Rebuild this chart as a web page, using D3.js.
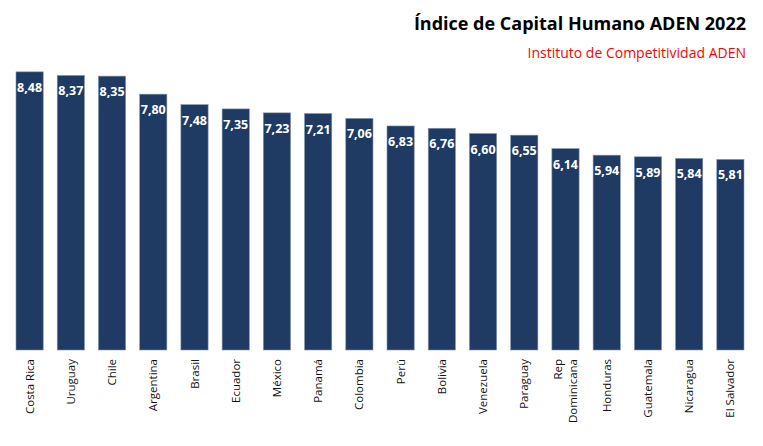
<!DOCTYPE html>
<html><head><meta charset="utf-8">
<script src="https://cdn.jsdelivr.net/npm/d3@7"></script>
<style>body{margin:0;background:#fff}svg{display:block}</style>
</head><body>
<script>
const countries = ["Costa Rica","Uruguay","Chile","Argentina","Brasil","Ecuador","México","Panamá","Colombia","Perú","Bolivia","Venezuela","Paraguay","Rep Dominicana","Honduras","Guatemala","Nicaragua","El Salvador"];
const values = [8.48,8.37,8.35,7.80,7.48,7.35,7.23,7.21,7.06,6.83,6.76,6.60,6.55,6.14,5.94,5.89,5.84,5.81];
const title = "Índice de Capital Humano ADEN 2022";
const subtitle = "Instituto de Competitividad ADEN";

const W = 763, H = 446;
const svg = d3.select("body").append("svg").attr("width", W).attr("height", H);

const x = d3.scaleBand().domain(countries).range([9, 751]).paddingInner(0.34).paddingOuter(0.17);
const y = d3.scaleLinear().domain([0, 10]).range([350, 22]);

const data = countries.map((c, i) => ({c, v: values[i]}));
const fmt = v => d3.format(".2f")(v).replace(".", ",");

svg.append("g").selectAll("rect").data(data).join("rect")
  .attr("x", d => x(d.c)).attr("y", d => y(d.v))
  .attr("width", x.bandwidth()).attr("height", d => y(0) - y(d.v))
  .attr("fill", "#1f3b63").attr("stroke", "#7f93b0").attr("stroke-width", 0.6);

svg.append("g").selectAll("text").data(data).join("text")
  .attr("x", d => x(d.c) + x.bandwidth() / 2).attr("y", d => y(d.v) + 20)
  .attr("text-anchor", "middle").attr("fill", "#fff")
  .style("font-family", "'Open Sans', sans-serif").style("font-weight", 700).style("font-size", "12.5px")
  .text(d => fmt(d.v));

const xAxis = svg.append("g").attr("transform", `translate(0,${y(0)})`)
  .call(d3.axisBottom(x).tickSize(0).tickFormat(""));
xAxis.select(".domain").remove();

const lab = svg.append("g").selectAll("text").data(data).join("text")
  .attr("transform", d => `translate(${x(d.c) + x.bandwidth() / 2},359) rotate(-90)`)
  .attr("text-anchor", "end")
  .attr("fill", "#111")
  .style("font-family", "'Open Sans', sans-serif").style("font-size", "11.5px");
lab.each(function(d) {
  const parts = d.c === "Rep Dominicana" ? ["Rep", "Dominicana"] : [d.c];
  const t = d3.select(this);
  const n = parts.length;
  parts.forEach((p, i) => {
    t.append("tspan").attr("x", 0).attr("y", (i - (n - 1) / 2) * 15).attr("dy", "0.35em").text(p);
  });
});

svg.append("text").attr("x", 746).attr("y", 30).attr("text-anchor", "end")
  .style("font-family", "'Open Sans', sans-serif").style("font-weight", 700).style("font-size", "18px")
  .attr("fill", "#000").text(title);
svg.append("text").attr("x", 746).attr("y", 58).attr("text-anchor", "end")
  .style("font-family", "'Open Sans', sans-serif").style("font-size", "14px")
  .attr("fill", "#f00").text(subtitle);
</script>
</body></html>
